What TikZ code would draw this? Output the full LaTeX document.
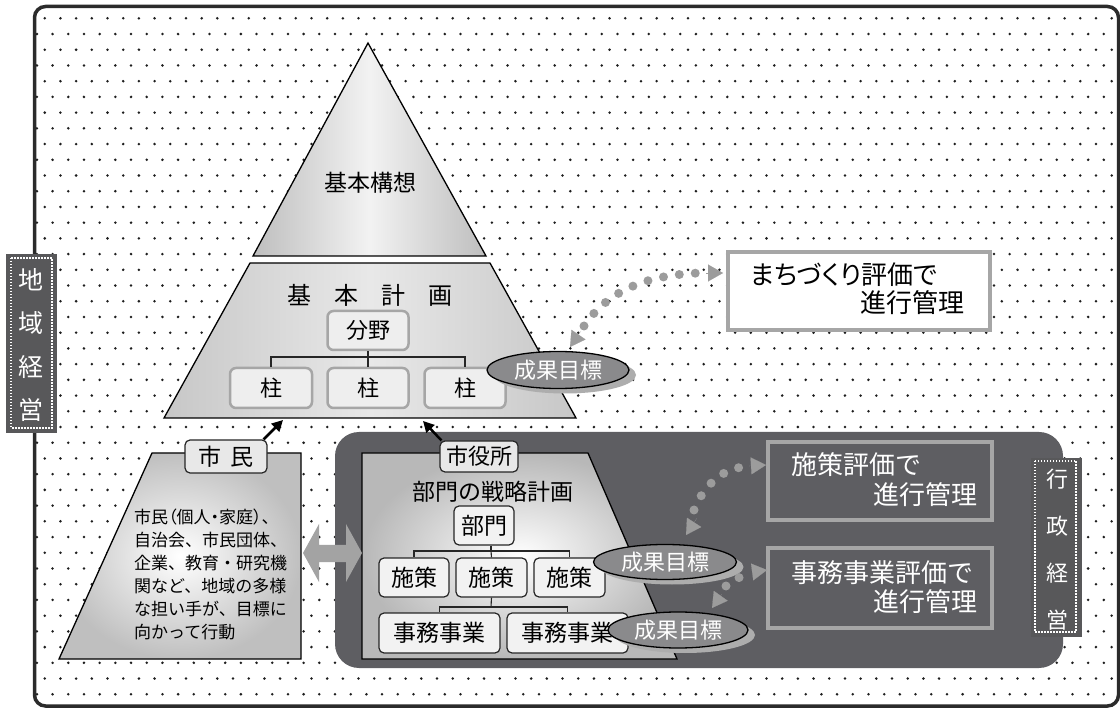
\documentclass[tikz,border=0pt]{standalone}
\usepackage{fontspec}
\setmainfont{Noto Sans CJK JP}
\newfontfamily\jpp[RawFeature=+palt]{Noto Sans CJK JP}
\usetikzlibrary{arrows.meta,shapes.geometric,calc}
\definecolor{framec}{HTML}{2B2B2B}
\definecolor{darkarea}{HTML}{5E5E62}
\definecolor{labeldark}{HTML}{58585A}
\definecolor{dotgray}{HTML}{9C9C9C}
\definecolor{boxline}{HTML}{A6A6A6}
\definecolor{ellfill}{HTML}{8A8A8C}
\definecolor{ellshadow}{HTML}{ADADAD}
\definecolor{pyredge}{HTML}{BEBEBE}
\definecolor{lightfill}{HTML}{EEEEEE}
\definecolor{dotc}{HTML}{1E1E1E}
\definecolor{arrgray}{HTML}{A3A3A3}
\tikzset{
  x=1pt, y=-1pt,
  lbox/.style={draw=boxline, line width=2.5pt, fill=lightfill, rounded corners=6pt, inner sep=0pt, font=\fontsize{22}{26}\selectfont},
  dbox/.style={draw=black!85, line width=1.2pt, fill=white!95!black, rounded corners=5pt, inner sep=0pt, font=\fontsize{23}{27}\selectfont},
  goal/.style={ellipse, draw=black, line width=1.3pt, fill=ellfill, text=white, inner sep=0pt, font=\fontsize{22}{26}\selectfont},
  goalsh/.style={ellipse, fill=ellshadow, inner sep=0pt},
  treeline/.style={draw=black!85, line width=1.1pt},
  evalbox/.style={draw=boxline, line width=3.5pt, inner sep=0pt},
  dotpath/.style={draw=dotgray, line width=9pt, line cap=round, dash pattern=on 0pt off 16pt},
  dottip/.style={draw=dotgray, line width=0.1pt, -{Triangle[length=15pt,width=17pt]}},
  uparrow/.style={draw=black, line width=2.5pt, -{Triangle[length=11pt,width=11pt]}},
  vdots/.style={draw=white, line width=1.5pt, dash pattern=on 1.5pt off 1.5pt},
  txt/.style={inner sep=0pt},
  wtxt/.style={text=white, inner sep=0pt, font=\fontsize{26}{30}\selectfont},
}
\begin{document}
\begin{tikzpicture}
\useasboundingbox (0,0) rectangle (1120,708);
\fill[white] (0,0) rectangle (1120,708);
% dotted background
\begin{scope}
\clip (35,7) rectangle (1118,706);
\foreach \r in {0,...,43} {
  \ifodd\r \def\xs{36.9}\else\def\xs{44.75}\fi
  \foreach \c in {0,...,69} {
    \fill[dotc] ({\xs+15.69*\c},{18.3+15.72*\r}) circle[radius=1.4pt];
  }
}
\end{scope}
% outer frame
\draw[framec, line width=3.5pt, rounded corners=11pt] (34.5,6.5) rectangle (1118.5,706);

% left label
\fill[labeldark] (6,254) rectangle (57,433);
\draw[vdots] (11,258) rectangle (52,428);
\node[text=white, align=center, inner sep=0pt, font=\fontsize{25}{43.5}\selectfont] (chiiki) at (31.5,345) {地\\域\\経\\営};

% pyramid top
\path[draw=black, line width=1.3pt, left color=pyredge, right color=pyredge, middle color=white!95!black]
  (368,43) -- (486,256) -- (253,256) -- cycle;
\node[txt, font=\fontsize{23}{27}\selectfont] (kihonkoso) at (370,183) {基本構想};

% pyramid middle
\path[draw=black, line width=1.3pt, left color=black!22, right color=black!22, middle color=black!9]
  (250,263) -- (490,263) -- (576,418) -- (164,418) -- cycle;
\node[txt, font=\fontsize{24}{28}\selectfont] (kihonkeikaku) at (370,295) {基\hspace{23pt}本\hspace{23pt}計\hspace{23pt}画};
\node[lbox, minimum width=81pt, minimum height=39pt] (bunya) at (368,330.5) {分野};
\node[lbox, minimum width=82pt, minimum height=40pt] (p1) at (271,388) {柱};
\node[lbox, minimum width=81pt, minimum height=40pt] (p2) at (368,388) {柱};
\node[lbox, minimum width=81pt, minimum height=40pt] (p3) at (465,388) {柱};
\coordinate (jb) at (368,357);
\draw[treeline] (bunya.south) -- (jb);
\draw[treeline] (p1.north) |- (jb) -| (p3.north);
\draw[treeline] (jb) -- (p2.north);

% goal 1
\node[goalsh, minimum width=142pt, minimum height=37pt] (g1s) at (565,375) {};
\node[goal, minimum width=142pt, minimum height=37pt] (g1) at (558,370) {成果目標};

% machizukuri box
\node[evalbox, draw=boxline, line width=4pt, fill=white, minimum width=262pt, minimum height=78pt] (mb) at (859,291) {};
\node[txt, anchor=west, font=\jpp\fontsize{26}{30}\selectfont] (mt1) at (750,275) {まちづくり評価で};
\node[txt, anchor=east, font=\fontsize{26}{30}\selectfont] (mt2) at (965,303) {進行管理};

% dotted arrow 1
\coordinate (c1s) at (584,326);
\coordinate (c1e) at (700,273);
\draw[dotpath] (c1s) .. controls (605,295) and (640,275) .. (c1e);
\draw[dottip] (581,331) -- (570,347);
\draw[dottip] (706,273) -- (723,273);

% citizens trapezoid
\path[draw=black, line width=1.3pt, inner color=white, outer color=black!25]
  (152,453) -- (301,453) -- (301,659) -- (59,659) -- cycle;
\node[dbox, fill=black!9, minimum width=82pt, minimum height=33pt] (shimin) at (226,456.5) {市\hspace{10pt}民};
\node[txt, anchor=north west, align=left, font=\fontsize{17}{23}\selectfont] (shimintext) at (134,509)
  {{\jpp 市民（個人・家庭）、}\\自治会、市民団体、\\企業、教育・研究機\\関など、地域の多様\\な担い手が、目標に\\向かって行動};
\coordinate (pb1) at (283,420);
\draw[uparrow] ($(shimin.north east)+(-4,0)$) -- (pb1);

% dark area
\fill[darkarea, rounded corners=24pt] (335,432) rectangle (1063,668);

% right label
\fill[labeldark] (1031,458) rectangle (1082,637);
\draw[vdots] (1035,461) rectangle (1076,632);
\node[text=white, align=center, inner sep=0pt, font=\fontsize{22}{47}\selectfont] (gyosei) at (1057,550) {行\\政\\経\\営};

% city hall trapezoid
\path[draw=black, line width=1.3pt, inner color=white, outer color=black!28]
  (362,453) -- (588,453) -- (677,659) -- (362,659) -- cycle;
\node[dbox, fill=black!9, minimum width=78pt, minimum height=31pt, font=\fontsize{22}{26}\selectfont] (shiyaku) at (479,456.5) {市役所};
\coordinate (pb2) at (423,421);
\draw[uparrow] ($(shiyaku.north west)+(2,0)$) -- (pb2);
\node[txt, font=\fontsize{23}{27}\selectfont] (senryaku) at (493,492) {部門の戦略計画};
\node[dbox, minimum width=60pt, minimum height=39pt] (bumon) at (484,525.5) {部門};
\node[dbox, minimum width=70pt, minimum height=39pt] (s1) at (414,577.5) {施策};
\node[dbox, minimum width=71pt, minimum height=39pt] (s2) at (491.5,577.5) {施策};
\node[dbox, minimum width=71pt, minimum height=39pt] (s3) at (569.5,577.5) {施策};
\coordinate (js) at (491,551);
\draw[treeline] (js |- bumon.south) -- (js);
\draw[treeline] (s1.north) |- (js) -| (s3.north);
\draw[treeline] (js) -- (s2.north);
\node[dbox, minimum width=121pt, minimum height=40pt] (w1) at (439.5,633) {事務事業};
\node[dbox, minimum width=121pt, minimum height=40pt] (w2) at (567.5,633) {事務事業};
\coordinate (jw) at (491,607);
\draw[treeline] (s2.south) -- (jw);
\draw[treeline] (w1.north) |- (jw) -| (w2.north);

% double arrow
\fill[arrgray] (303,553) -- (319,524) -- (319,545) -- (346,545) -- (346,524) -- (362,553) -- (346,582) -- (346,562) -- (319,562) -- (319,582) -- cycle;

% goals 2 and 3
\node[goalsh, minimum width=143pt, minimum height=35pt] (g2s) at (672,567) {};
\node[goal, minimum width=143pt, minimum height=35pt] (g2) at (665,562) {成果目標};
\node[goalsh, minimum width=140pt, minimum height=36pt] (g3s) at (685,635) {};
\node[goal, minimum width=140pt, minimum height=36pt] (g3) at (678,630) {成果目標};

% eval boxes
\node[evalbox, minimum width=224pt, minimum height=78pt] (e2) at (880,481) {};
\node[wtxt, anchor=west] (e2t1) at (791,465) {施策評価で};
\node[wtxt, anchor=east] (e2t2) at (978,495) {進行管理};
\node[evalbox, minimum width=224pt, minimum height=80pt] (e3) at (880,588) {};
\node[wtxt, anchor=west] (e3t1) at (791,573) {事務事業評価で};
\node[wtxt, anchor=east] (e3t2) at (978,602) {進行管理};

% dotted arrow 2
\coordinate (c2s) at (694,510);
\coordinate (c2e) at (743,467);
\draw[dotpath] (c2s) .. controls (702,490) and (718,470) .. (c2e);
\draw[dottip] (697,518) -- (686,535);
\draw[dottip] (749,466) -- (766,465);

% dotted arrow 3
\coordinate (c3s) at (726,586);
\coordinate (c3e) at (742,577);
\draw[dotpath] (c3s) .. controls (732,579) .. (c3e);
\draw[dottip] (722,594) -- (712,608);
\draw[dottip] (752,572) -- (767,570);
\end{tikzpicture}
\end{document}
